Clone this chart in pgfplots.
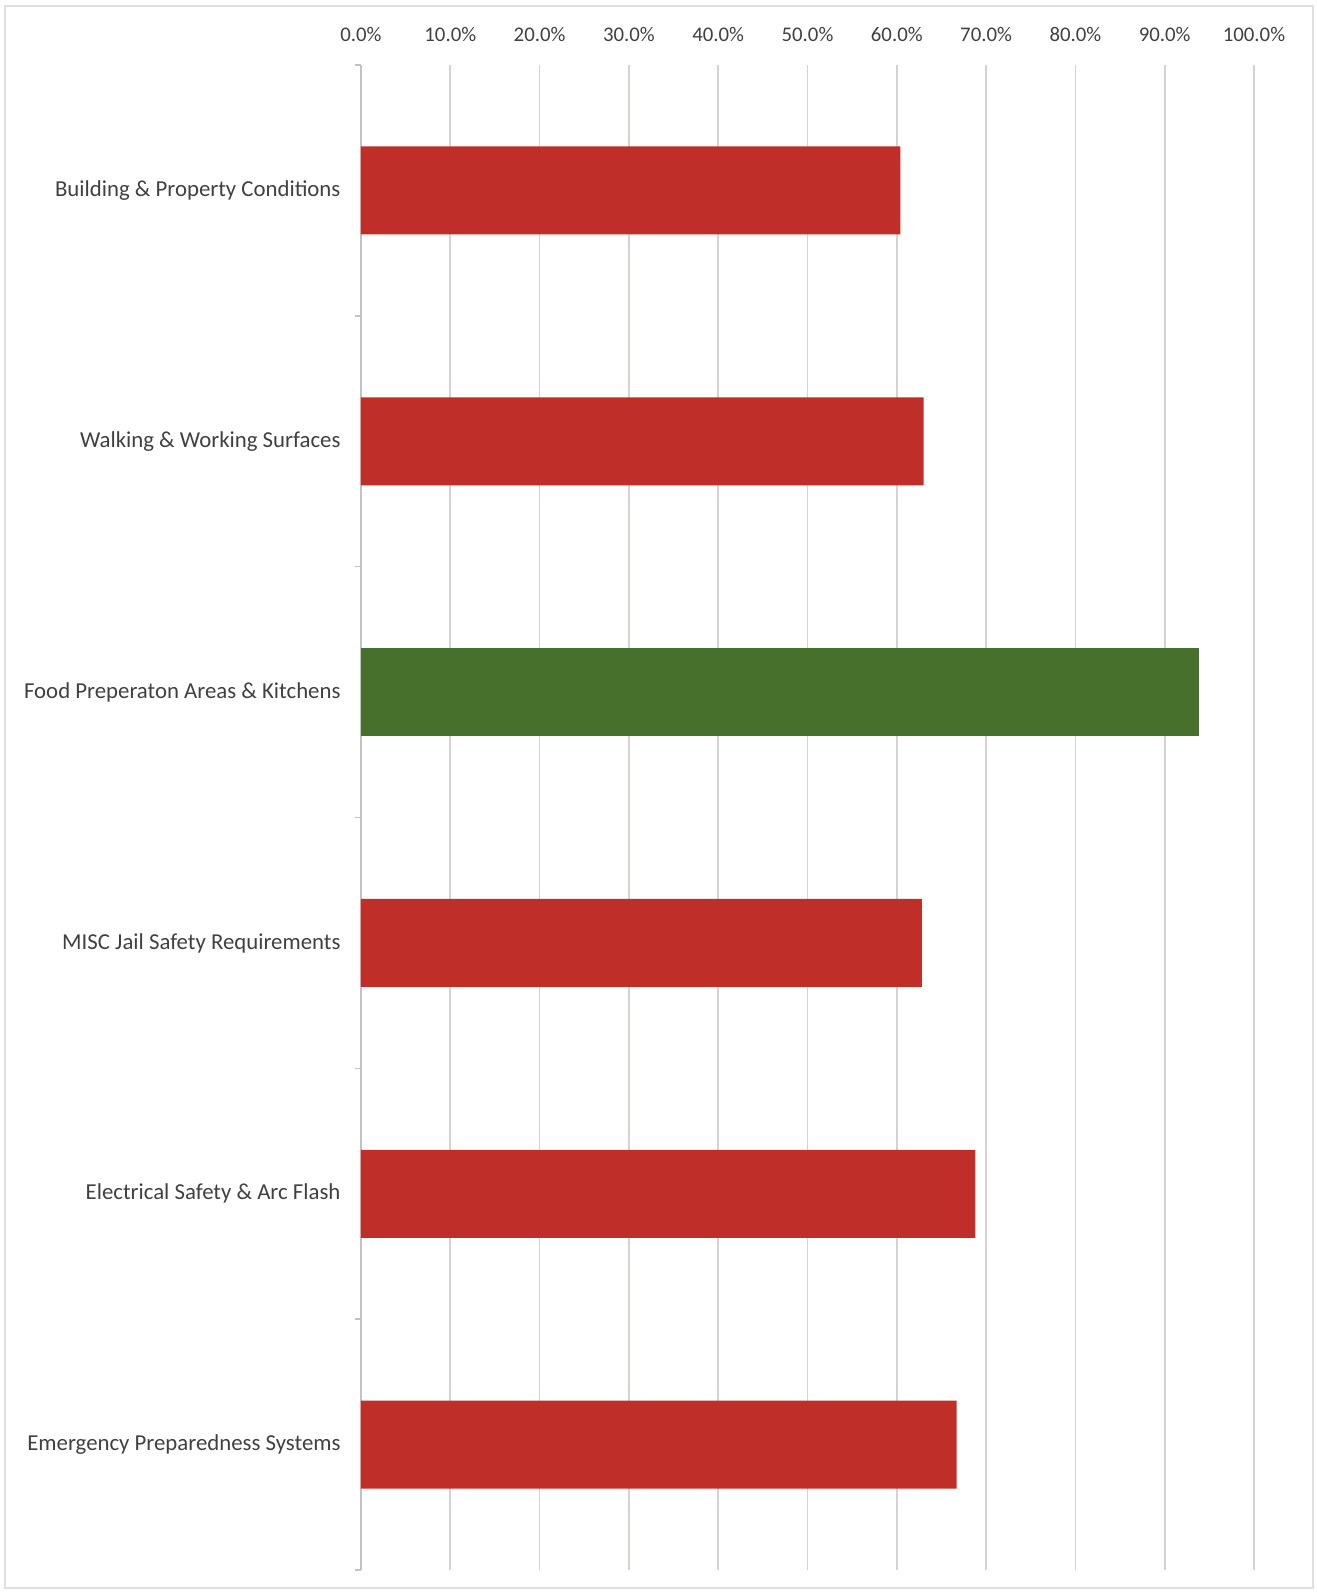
\documentclass[border=0pt]{standalone}
\usepackage{pgfplots}
\pgfplotsset{compat=1.18}
\usepackage{fontspec}
\setmainfont{Carlito}
\definecolor{barred}{HTML}{BF2E28}
\definecolor{bargreen}{HTML}{47702C}
\definecolor{gridgray}{HTML}{D2D2DA}
\definecolor{txt}{HTML}{404040}
\begin{document}
\begin{tikzpicture}
  \useasboundingbox (-180.5bp,-12bp) rectangle (478bp,785bp);
  \draw[color=gridgray!70, line width=0.8bp] (-178bp,-9bp) rectangle (476bp,782bp);
  \begin{axis}[
      at={(0,0)}, anchor=south west,
      scale only axis,
      width=446.5bp, height=752.5bp,
      xbar, bar width=44bp, bar shift=0pt,
      xmin=0, xmax=100,
      ymin=-0.5, ymax=5.5,
      y dir=reverse,
      axis x line*=top,
      axis y line*=left,
      x axis line style={draw=none},
      y axis line style={draw=gridgray!80!gray, line width=0.8bp},
      xtick={0,10,...,100},
      xticklabel={\pgfmathprintnumber[fixed,fixed zerofill,precision=1]{\tick}\%},
      xmajorgrids,
      major x grid style={draw=gridgray, line width=0.8bp},
      major x tick style={draw=none},
      ytick={0,1,2,3,4,5},
      yticklabels={Building \& Property Conditions,Walking \& Working Surfaces,Food Preperaton Areas \& Kitchens,MISC Jail Safety Requirements,Electrical Safety \& Arc Flash,Emergency Preparedness Systems},
      major y tick style={draw=none},
      minor ytick={-0.5,0.5,...,5.5},
      minor y tick style={draw=gridgray!80!gray, line width=0.8bp},
      minor tick length=3bp,
      tick align=outside,
      xticklabel style={font=\fontsize{10.4bp}{12bp}\selectfont, text=txt, yshift=4bp},
      yticklabel style={font=\fontsize{11.4bp}{13bp}\selectfont, text=txt, xshift=-2.5bp},
      /pgf/number format/assume math mode=true,
      clip=false,
    ]
    % percentage scores per category (0 = top)
    \addplot[draw=none, fill=barred] coordinates {(60.4,0) (63.0,1) (62.8,3) (68.8,4) (66.7,5)};
    \addplot[draw=none, fill=bargreen] coordinates {(93.8,2)};
  \end{axis}
\end{tikzpicture}
\end{document}
